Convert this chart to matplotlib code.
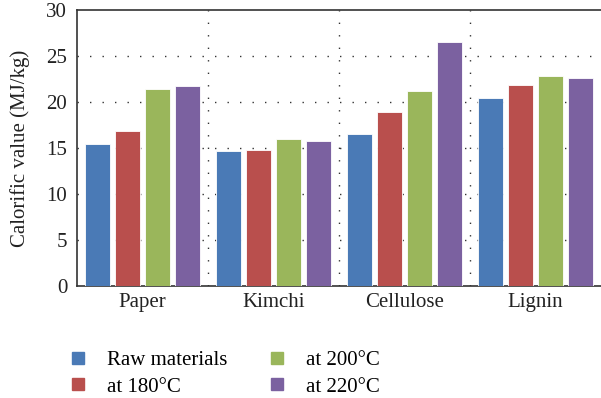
import numpy as np
import matplotlib.pyplot as plt
from matplotlib.lines import Line2D

plt.rcParams['font.family'] = ['Liberation Serif', 'DejaVu Serif']

categories = ["Paper", "Kimchi", "Cellulose", "Lignin"]
series = ["Raw materials", "at 180\u00b0C", "at 200\u00b0C", "at 220\u00b0C"]
raw = [15.45, 14.7, 16.47, 20.39]
t180 = [16.9, 14.73, 18.93, 21.8]
t200 = [21.4, 15.96, 21.19, 22.78]
t220 = [21.7, 15.78, 26.48, 22.57]
colors = ["#4a7ab6", "#b94f4d", "#9ab65b", "#7b61a0"]

fig = plt.figure(figsize=(6.01, 3.98), dpi=100)
ax = fig.add_axes([77 / 601, 1 - 286 / 398, 1 - 77 / 601, 276 / 398])

x = np.arange(len(categories))
pitch = 0.229
width = 0.185
for i, vals in enumerate([raw, t180, t200, t220]):
    ax.bar(x + (i - 1.5) * pitch, vals, width, color=colors[i],
           edgecolor="white", linewidth=0.6, zorder=3)

ax.set_xlim(-0.5, 3.5)
ax.set_ylim(0, 30)
ax.set_yticks(range(0, 31, 5))
ax.set_xticks(x)
ax.set_xticklabels(categories)
ax.tick_params(length=0, labelsize=15, colors="#222222", pad=7)
ax.tick_params(axis="x", pad=5)
ax.set_ylabel("Calorific value (MJ/kg)", fontsize=15, color="#222222", labelpad=12)

dots = (0, (1, 8))
for yv in range(5, 30, 5):
    ax.axhline(yv, color="#333333", lw=1.0, ls=dots, zorder=1)
for xv in [0.5, 1.5, 2.5]:
    ax.axvline(xv, color="#333333", lw=1.0, ls=dots, zorder=1)

for s in ["left", "bottom", "top"]:
    ax.spines[s].set_color("#333333")
    ax.spines[s].set_linewidth(1.2)
ax.spines["right"].set_visible(False)

handles = [Line2D([], [], marker="s", ls="", color=c, markersize=8) for c in colors]
fig.legend(handles, series, loc="upper left", bbox_to_anchor=(59 / 601, 1 - 342 / 398),
           ncol=2, frameon=False, fontsize=15, handletextpad=0.9,
           columnspacing=1.9, labelspacing=0.35, handlelength=1.0,
           borderaxespad=0)

fig.savefig("out.png", dpi=100)
